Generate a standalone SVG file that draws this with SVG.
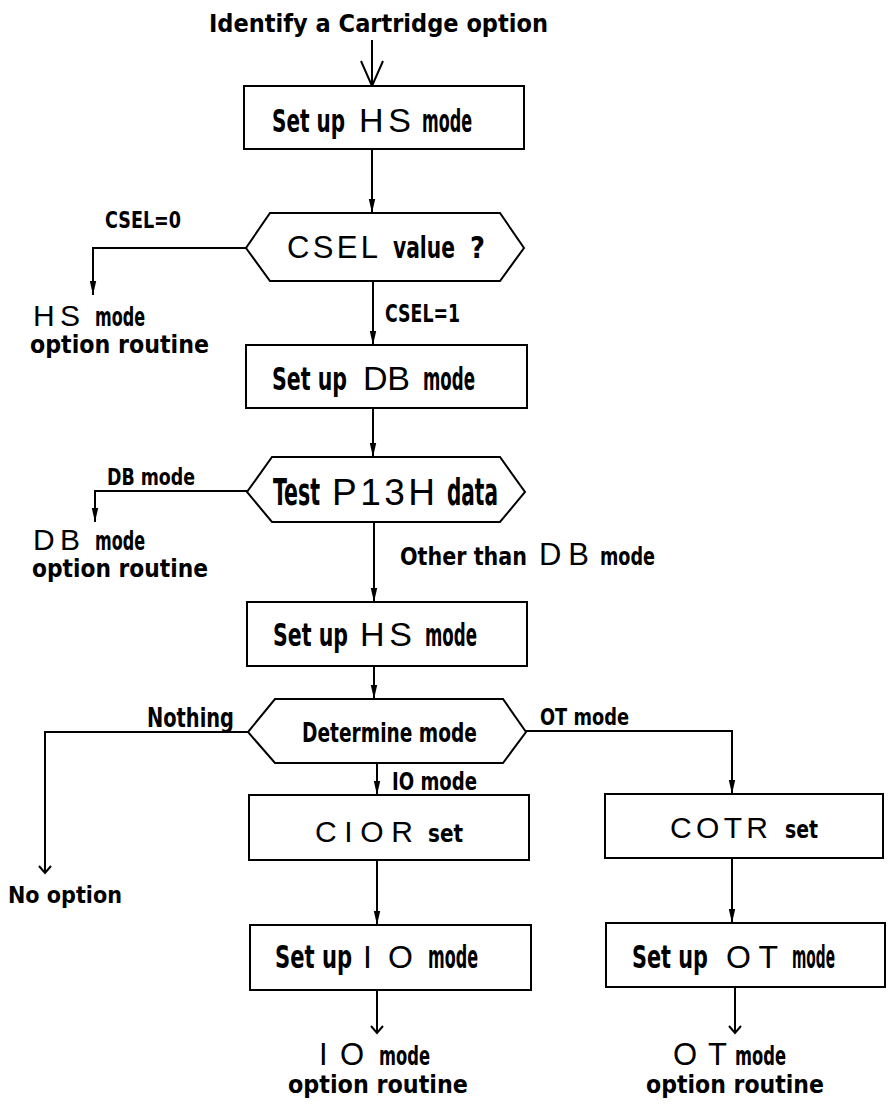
<svg xmlns="http://www.w3.org/2000/svg" width="891" height="1107" viewBox="0 0 891 1107">
<style>
.bg{fill:#fff}
.box{fill:#fff;stroke:#000;stroke-width:2}
.dec{fill:#fff;stroke:#000;stroke-width:2;stroke-linejoin:miter}
.ln{fill:none;stroke:#000;stroke-width:2}
text{fill:#000}
.c{font-family:"DejaVu Sans Condensed","DejaVu Sans",sans-serif;font-weight:bold}
.w{font-family:"Liberation Sans",Arial,sans-serif;font-weight:normal}
</style>
<defs>
<marker id="fa" markerWidth="15" markerHeight="8" refX="14" refY="4" orient="auto" markerUnits="userSpaceOnUse"><path d="M0,0.8 L14,4 L0,7.2 z" fill="#000"/></marker>
<marker id="oa" markerWidth="10" markerHeight="14" refX="8" refY="7" orient="auto" markerUnits="userSpaceOnUse"><path d="M1,1 L8,7 L1,13" fill="none" stroke="#000" stroke-width="2"/></marker>
<marker id="ob" markerWidth="28" markerHeight="24" refX="26" refY="12" orient="auto" markerUnits="userSpaceOnUse"><path d="M1,1 L26,12 L1,23" fill="none" stroke="#000" stroke-width="2"/></marker>
</defs>
<rect class="bg" x="0" y="0" width="891" height="1107"/>

<g id="connectors">
<path class="ln" d="M372,40 V86" marker-end="url(#ob)"/>
<path class="ln" d="M372,149 V213" marker-end="url(#fa)"/>
<path class="ln" d="M246,248 H93 V295" marker-end="url(#fa)"/>
<path class="ln" d="M373,281 V345" marker-end="url(#fa)"/>
<path class="ln" d="M373,408 V457" marker-end="url(#fa)"/>
<path class="ln" d="M247,491 H95 V522" marker-end="url(#fa)"/>
<path class="ln" d="M374,522 V602" marker-end="url(#fa)"/>
<path class="ln" d="M374,666 V699" marker-end="url(#fa)"/>
<path class="ln" d="M248,732 H45 V873" marker-end="url(#oa)"/>
<path class="ln" d="M526,731 H732 V794" marker-end="url(#fa)"/>
<path class="ln" d="M377,763 V795" marker-end="url(#fa)"/>
<path class="ln" d="M377,860 V925" marker-end="url(#fa)"/>
<path class="ln" d="M732,858 V923" marker-end="url(#fa)"/>
<path class="ln" d="M377,990 V1033" marker-end="url(#oa)"/>
<path class="ln" d="M735,987 V1033" marker-end="url(#oa)"/>
<text class="c" x="105" y="228" font-size="19.5" textLength="76" lengthAdjust="spacingAndGlyphs" transform="matrix(1 0 0 1.2 0 -45.6)">CSEL=0</text>
<text class="c" x="385" y="322" font-size="19.5" textLength="75" lengthAdjust="spacingAndGlyphs" transform="matrix(1 0 0 1.3 0 -96.6)">CSEL=1</text>
<text class="c" x="107" y="485" font-size="19.3" textLength="88" lengthAdjust="spacingAndGlyphs" transform="matrix(1 0 0 1.2 0 -97)">DB mode</text>
<text class="c" x="400" y="565" font-size="23" textLength="127" lengthAdjust="spacingAndGlyphs" transform="matrix(1 0 0 1.1 0 -56.5)">Other than</text>
<text class="w" x="539" y="565" font-size="31" textLength="50" lengthAdjust="spacing">DB</text>
<text class="c" x="600" y="565" font-size="23" textLength="55" lengthAdjust="spacingAndGlyphs" transform="matrix(1 0 0 1.1 0 -56.5)">mode</text>
<text class="c" x="147" y="727" font-size="21.5" textLength="87" lengthAdjust="spacingAndGlyphs" transform="matrix(1 0 0 1.2 0 -145.4)">Nothing</text>
<text class="c" x="540" y="725" font-size="19.7" textLength="89" lengthAdjust="spacingAndGlyphs" transform="matrix(1 0 0 1.2 0 -145)">OT mode</text>
<text class="c" x="392" y="790" font-size="20" textLength="85" lengthAdjust="spacingAndGlyphs" transform="matrix(1 0 0 1.2 0 -158)">IO mode</text>
</g>

<g id="start">
<text class="c" x="209" y="32" font-size="25" textLength="339" lengthAdjust="spacingAndGlyphs">Identify a Cartridge option</text>
</g>

<g id="n1">
<rect class="box" x="244" y="86" width="280" height="63"/>
<text class="c" x="272" y="132" font-size="23.3" textLength="73" lengthAdjust="spacingAndGlyphs" transform="matrix(1 0 0 1.35 0 -46.2)">Set up</text>
<text class="w" x="359" y="132" font-size="34" textLength="52" lengthAdjust="spacing">HS</text>
<text class="c" x="422" y="132" font-size="23.3" textLength="50" lengthAdjust="spacingAndGlyphs" transform="matrix(1 0 0 1.35 0 -46.2)">mode</text>
</g>

<g id="d1">
<polygon class="dec" points="270,213 500,213 524,248 500,281 270,281 246,248"/>
<text class="w" x="287" y="258" font-size="31" textLength="91" lengthAdjust="spacing">CSEL</text>
<text class="c" x="393" y="258" font-size="22.5" textLength="62" lengthAdjust="spacingAndGlyphs" transform="matrix(1 0 0 1.3 0 -77.4)">value</text>
<text class="c" x="470" y="258" font-size="22.5" textLength="15" lengthAdjust="spacingAndGlyphs" transform="matrix(1 0 0 1.3 0 -77.4)">?</text>
</g>

<g id="hs-out">
<text class="w" x="33" y="326" font-size="30" textLength="47" lengthAdjust="spacing">HS</text>
<text class="c" x="95" y="326" font-size="20" textLength="50" lengthAdjust="spacingAndGlyphs" transform="matrix(1 0 0 1.3 0 -97.8)">mode</text>
<text class="c" x="30" y="353" font-size="24.6" textLength="179" lengthAdjust="spacingAndGlyphs">option routine</text>
</g>

<g id="n2">
<rect class="box" x="246" y="345" width="281" height="63"/>
<text class="c" x="272" y="390" font-size="23.3" textLength="75" lengthAdjust="spacingAndGlyphs" transform="matrix(1 0 0 1.35 0 -136.5)">Set up</text>
<text class="w" x="363" y="390" font-size="34" textLength="47" lengthAdjust="spacing">DB</text>
<text class="c" x="423" y="390" font-size="23.3" textLength="52" lengthAdjust="spacingAndGlyphs" transform="matrix(1 0 0 1.35 0 -136.5)">mode</text>
</g>

<g id="d2">
<polygon class="dec" points="272,457 500,457 525,492 500,522 272,522 247,492"/>
<text class="c" x="273" y="505" font-size="24" textLength="47" lengthAdjust="spacingAndGlyphs" transform="matrix(1 0 0 1.55 0 -277.75)">Test</text>
<text class="w" x="332" y="505" font-size="37" textLength="103" lengthAdjust="spacing">P13H</text>
<text class="c" x="447" y="505" font-size="24" textLength="51" lengthAdjust="spacingAndGlyphs" transform="matrix(1 0 0 1.55 0 -277.75)">data</text>
</g>

<g id="db-out">
<text class="w" x="33" y="550" font-size="30" textLength="47" lengthAdjust="spacing">DB</text>
<text class="c" x="95" y="550" font-size="20" textLength="50" lengthAdjust="spacingAndGlyphs" transform="matrix(1 0 0 1.3 0 -165)">mode</text>
<text class="c" x="32" y="577" font-size="24.3" textLength="176" lengthAdjust="spacingAndGlyphs">option routine</text>
</g>

<g id="n3">
<rect class="box" x="247" y="602" width="280" height="64"/>
<text class="c" x="273" y="646" font-size="23.3" textLength="75" lengthAdjust="spacingAndGlyphs" transform="matrix(1 0 0 1.35 0 -226.1)">Set up</text>
<text class="w" x="360" y="646" font-size="34" textLength="52" lengthAdjust="spacing">HS</text>
<text class="c" x="425" y="646" font-size="23.3" textLength="52" lengthAdjust="spacingAndGlyphs" transform="matrix(1 0 0 1.35 0 -226.1)">mode</text>
</g>

<g id="d3">
<polygon class="dec" points="275,699 503,699 526,732 503,763 275,763 248,732"/>
<text class="c" x="302" y="742" font-size="20.3" textLength="175" lengthAdjust="spacingAndGlyphs" transform="matrix(1 0 0 1.35 0 -259.7)">Determine mode</text>
</g>

<g id="no-opt">
<text class="c" x="8" y="903" font-size="23" textLength="114" lengthAdjust="spacingAndGlyphs">No option</text>
</g>

<g id="n-cior">
<rect class="box" x="249" y="795" width="280" height="65"/>
<text class="w" x="315" y="842" font-size="30" textLength="98" lengthAdjust="spacing">CIOR</text>
<text class="c" x="428" y="842" font-size="22" textLength="35" lengthAdjust="spacingAndGlyphs" transform="matrix(1 0 0 1.15 0 -126.3)">set</text>
</g>

<g id="n-cotr">
<rect class="box" x="605" y="794" width="278" height="64"/>
<text class="w" x="670" y="838" font-size="30" textLength="98" lengthAdjust="spacing">COTR</text>
<text class="c" x="785" y="838" font-size="22" textLength="33" lengthAdjust="spacingAndGlyphs" transform="matrix(1 0 0 1.15 0 -125.7)">set</text>
</g>

<g id="n-io">
<rect class="box" x="250" y="925" width="281" height="65"/>
<text class="c" x="275" y="968" font-size="23.4" textLength="77" lengthAdjust="spacingAndGlyphs" transform="matrix(1 0 0 1.35 0 -338.8)">Set up</text>
<text class="w" x="363" y="968" font-size="32" textLength="50" lengthAdjust="spacing">IO</text>
<text class="c" x="428" y="968" font-size="23.4" textLength="50" lengthAdjust="spacingAndGlyphs" transform="matrix(1 0 0 1.35 0 -338.8)">mode</text>
</g>

<g id="n-ot">
<rect class="box" x="606" y="923" width="279" height="64"/>
<text class="c" x="632" y="968" font-size="23.4" textLength="76" lengthAdjust="spacingAndGlyphs" transform="matrix(1 0 0 1.35 0 -338.8)">Set up</text>
<text class="w" x="726" y="968" font-size="32" textLength="52" lengthAdjust="spacing">OT</text>
<text class="c" x="792" y="968" font-size="23.4" textLength="43" lengthAdjust="spacingAndGlyphs" transform="matrix(1 0 0 1.35 0 -338.8)">mode</text>
</g>

<g id="io-out">
<text class="w" x="319" y="1065" font-size="31" textLength="45" lengthAdjust="spacing">IO</text>
<text class="c" x="379" y="1065" font-size="20" textLength="51" lengthAdjust="spacingAndGlyphs" transform="matrix(1 0 0 1.3 0 -319.5)">mode</text>
<text class="c" x="288" y="1093" font-size="24.7" textLength="180" lengthAdjust="spacingAndGlyphs">option routine</text>
</g>

<g id="ot-out">
<text class="w" x="673" y="1065" font-size="31" textLength="54" lengthAdjust="spacing">OT</text>
<text class="c" x="735" y="1065" font-size="20" textLength="51" lengthAdjust="spacingAndGlyphs" transform="matrix(1 0 0 1.3 0 -319.5)">mode</text>
<text class="c" x="646" y="1093" font-size="24.5" textLength="178" lengthAdjust="spacingAndGlyphs">option routine</text>
</g>
</svg>
